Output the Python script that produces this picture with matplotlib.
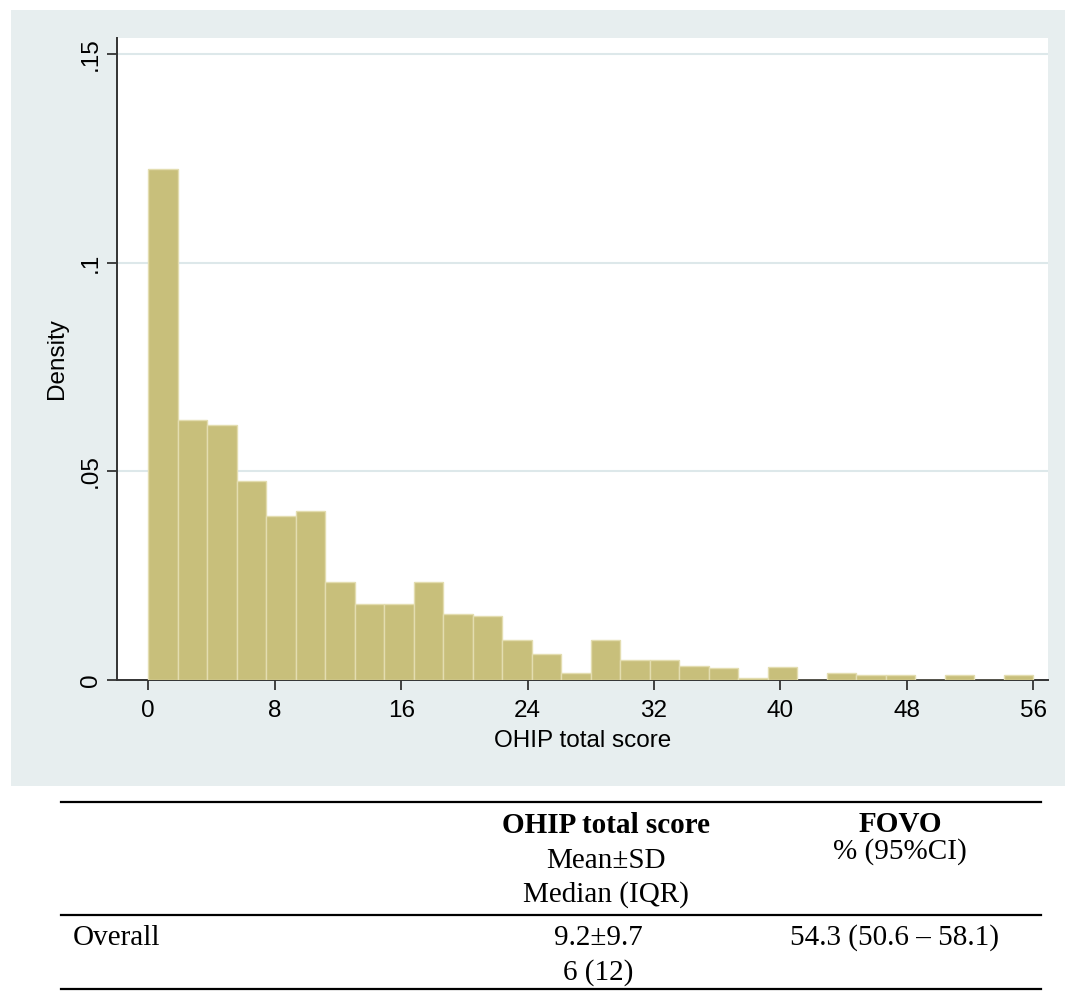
import numpy as np
import matplotlib
matplotlib.use('Agg')
from matplotlib import pyplot as plt
from matplotlib.patches import Rectangle
from matplotlib.lines import Line2D

# histogram of OHIP total score (density per bin), 30 bins over 0..56
bin_start = 0
bin_end = 56
density = [0.1224, 0.0624, 0.0611, 0.0478, 0.0392, 0.0406, 0.0234, 0.0182,
           0.0182, 0.0234, 0.0159, 0.0154, 0.0096, 0.0063, 0.0016, 0.0096,
           0.0047, 0.0047, 0.0034, 0.0028, 0.0005, 0.0031, 0.0, 0.0017,
           0.0012, 0.0012, 0.0, 0.0012, 0.0, 0.0012]
x_ticks = [0, 8, 16, 24, 32, 40, 48, 56]
y_ticks = [0, 0.05, 0.1, 0.15]
y_tick_labels = ['0', '.05', '.1', '.15']

# table below the graph
col_heads = ['OHIP total score', 'FOVO']
col_subs = [['Mean\u00b1SD', 'Median (IQR)'], ['% (95%CI)']]
row_name = 'Overall'
row_ohip = ['9.2\u00b19.7', '6 (12)']
row_fovo = '54.3 (50.6 \u2013 58.1)'

W, H = 1065, 992
fig = plt.figure(figsize=(W / 100, H / 100), dpi=100)
fig.patch.set_facecolor('white')


def fx(px):
    return px / W


def fy(py):
    return 1 - py / H


# graph region background
fig.add_artist(Rectangle((fx(11), fy(786)), fx(W - 11), 776 / H,
                         facecolor='#e7eeef', edgecolor='none', zorder=0))

ax = fig.add_axes([fx(117), fy(680), fx(1048 - 117), (680 - 37.5) / H])
ax.set_facecolor('white')

n = len(density)
width = (bin_end - bin_start) / n
lefts = bin_start + np.arange(n) * width
ax.bar(lefts, density, width=width, align='edge', color='#c8bf7b',
       edgecolor='#e3ddb0', linewidth=1.0, zorder=3)

ax.set_xlim(-1.98, 56.93)
ax.set_ylim(0, 0.154)
ax.set_xticks(x_ticks)
ax.set_yticks(y_ticks)
ax.set_yticklabels(y_tick_labels)
for v in y_ticks[1:]:
    ax.axhline(v, color='#dde8ea', linewidth=1.5, zorder=1)

for s in ['top', 'right']:
    ax.spines[s].set_visible(False)
for s in ['left', 'bottom']:
    ax.spines[s].set_color('#333333')
    ax.spines[s].set_linewidth(1.4)

sans = 'Liberation Sans'
ax.tick_params(axis='both', direction='out', length=7.5, width=1.3,
               color='#333333', labelsize=17.5, pad=7)
ax.tick_params(axis='y', labelrotation=90, pad=3.5)
for lab in ax.get_xticklabels() + ax.get_yticklabels():
    lab.set_fontfamily(sans)
for lab in ax.get_yticklabels():
    lab.set_va('center')

ax.set_xlabel('OHIP total score', fontsize=17.5, fontfamily=sans, labelpad=6)
ax.set_ylabel('Density', fontsize=17.5, fontfamily=sans)
ax.yaxis.set_label_coords(-0.053, 0.5)

# table
serif = 'Liberation Serif'
for y in [802, 914.5, 988.5]:
    fig.add_artist(Line2D([fx(61), fx(1041)], [fy(y), fy(y)],
                          color='black', linewidth=1.6))

fs = 21
fig.text(fx(606), fy(833), col_heads[0], fontsize=fs, fontfamily=serif,
         fontweight='bold', ha='center', va='baseline')
fig.text(fx(900), fy(832), col_heads[1], fontsize=fs, fontfamily=serif,
         fontweight='bold', ha='center', va='baseline')
fig.text(fx(606), fy(868), col_subs[0][0], fontsize=fs, fontfamily=serif,
         ha='center', va='baseline')
fig.text(fx(606), fy(902), col_subs[0][1], fontsize=fs, fontfamily=serif,
         ha='center', va='baseline')
fig.text(fx(900), fy(859), col_subs[1][0], fontsize=fs, fontfamily=serif,
         ha='center', va='baseline')
fig.text(fx(73), fy(945), row_name, fontsize=fs, fontfamily=serif,
         ha='left', va='baseline')
fig.text(fx(598), fy(945), row_ohip[0], fontsize=fs, fontfamily=serif,
         ha='center', va='baseline')
fig.text(fx(598), fy(980), row_ohip[1], fontsize=fs, fontfamily=serif,
         ha='center', va='baseline')
fig.text(fx(895), fy(945), row_fovo, fontsize=fs, fontfamily=serif,
         ha='center', va='baseline')

fig.savefig('out.png', dpi=100)
